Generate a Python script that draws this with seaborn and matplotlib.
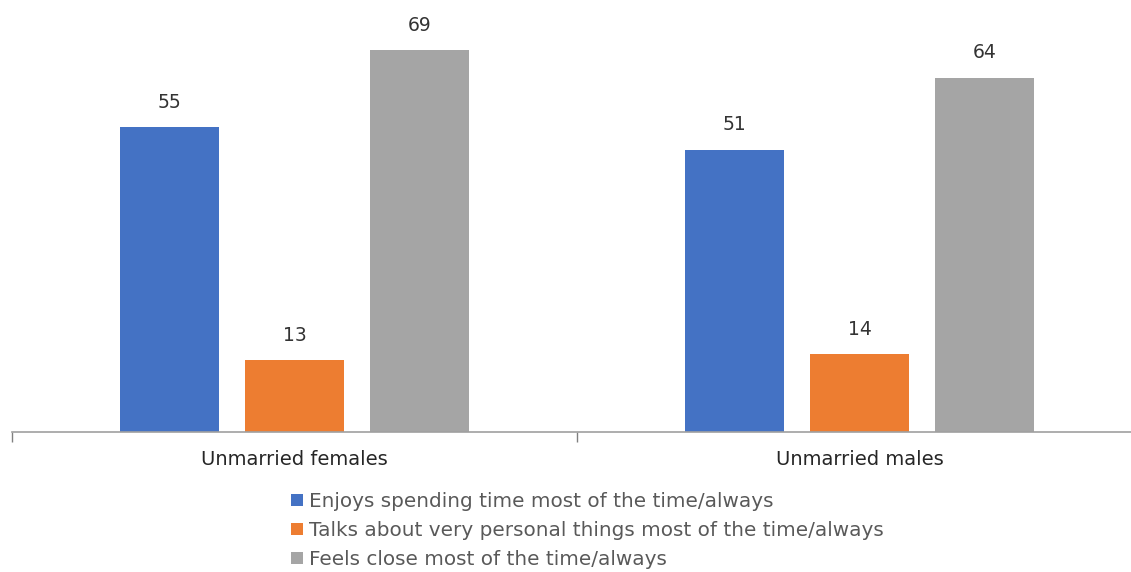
import matplotlib
matplotlib.use("Agg")
import matplotlib.pyplot as plt
import seaborn as sns
import pandas as pd

groups = ["Unmarried females", "Unmarried males"]
series = [
    "Enjoys spending time most of the time/always",
    "Talks about very personal things most of the time/always",
    "Feels close most of the time/always",
]
values = {
    series[0]: [55, 51],
    series[1]: [13, 14],
    series[2]: [69, 64],
}
colors = ["#4472C4", "#ED7D31", "#A5A5A5"]

rows = []
for s in series:
    for g, v in zip(groups, values[s]):
        rows.append({"group": g, "series": s, "value": v})
df = pd.DataFrame(rows)

sns.set_theme(style="white")
plt.rcParams["font.family"] = ["DejaVu Sans"]

fig = plt.figure(figsize=(11.31, 5.72), dpi=100)
W, H = 1131, 572
ax = fig.add_axes([12 / W, (H - 432) / H, 1130 / W, 427 / H])

sns.barplot(data=df, x="group", y="value", hue="series", order=groups,
            hue_order=series, palette=colors, width=0.666, gap=0.21,
            saturation=1, ax=ax, legend=True, linewidth=0)

ax.set_ylim(0, 77.1)
ax.set_xlim(-0.5, 1.5)
for c in ax.containers:
    ax.bar_label(c, padding=11, fontsize=13.5, color="#333333")

for s in ["top", "right", "left"]:
    ax.spines[s].set_visible(False)
ax.spines["bottom"].set_color("#A0A0A0")
ax.spines["bottom"].set_linewidth(1.2)
ax.set_yticks([])
ax.set_xticks([-0.5, 0.5, 1.5], minor=True)
ax.tick_params(axis="x", which="minor", length=7, width=1, color="#808080", direction="out", bottom=True)
ax.tick_params(axis="x", which="major", length=0, labelsize=14, labelcolor="#262626", pad=13)
ax.set_xlabel("")
ax.set_ylabel("")

handles, labels = ax.get_legend_handles_labels()
ax.legend_.remove()
fig.legend(handles, labels, loc="upper left", bbox_to_anchor=(281 / W, 1 - 482 / H),
           frameon=False, fontsize=14.4, labelcolor="#595959", handlelength=0.6,
           handleheight=0.6, handletextpad=0.3, labelspacing=0.5, borderpad=0)

fig.savefig("out.png", dpi=100)
